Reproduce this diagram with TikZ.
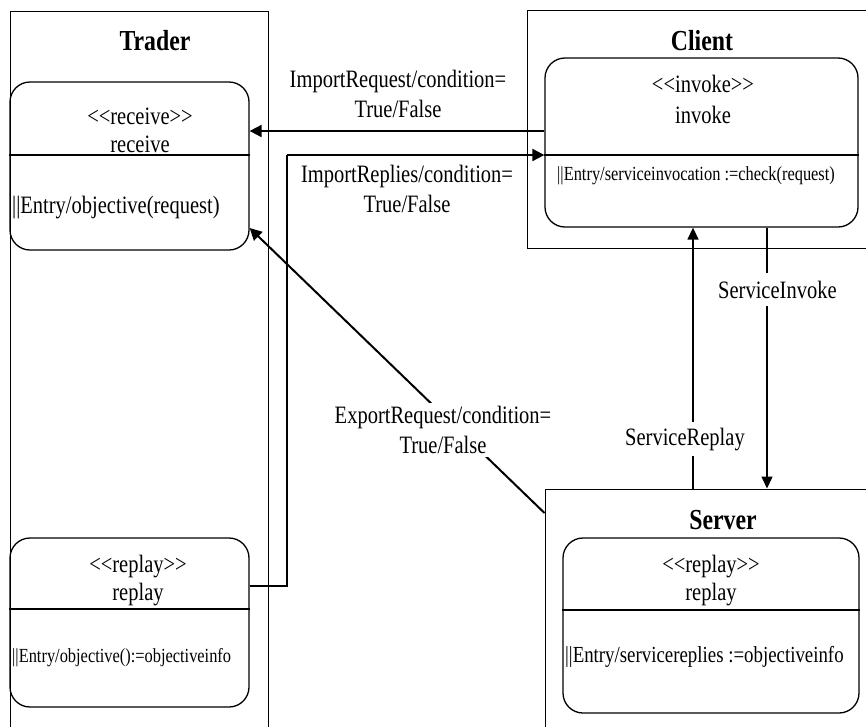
\documentclass[tikz,border=0pt]{standalone}
\usepackage{fontspec}
\setmainfont[FakeStretch=0.82]{Liberation Serif}
\usetikzlibrary{arrows.meta}

\begin{document}
\begin{tikzpicture}[x=1pt, y=-1pt,
        every node/.style={inner sep=0pt, font=\fontsize{25}{30}\selectfont},
        container/.style={draw, line width=1pt},
        statebox/.style={draw, line width=1.3pt, rounded corners=20pt},
        title/.style={font=\bfseries\fontsize{29}{34}\selectfont, anchor=base},
        conn/.style={line width=2pt, -{Triangle[length=12pt, width=12pt]}},
        svc/.style={line width=1.5pt, -{Triangle[length=12pt, width=11pt]}},
        lbl/.style={align=center, fill=white, inner sep=3pt}]

    \useasboundingbox (0,0) rectangle (866,726);
    \clip (0,0) rectangle (866,726);

    % containers
    \node[container, minimum width=258pt, minimum height=749pt] (trader) at (139,385.5) {};
    \node[container, minimum width=373pt, minimum height=238pt] (client) at (713.5,129) {};
    \node[container, minimum width=355pt, minimum height=271pt] (server) at (722.5,624.5) {};

    \node[title] (tradertitle) at (155,50) {Trader};
    \node[title] (clienttitle) at (702,50) {Client};
    \node[title] (servertitle) at (723,529) {Server};

    % states
    \node[statebox, minimum width=239pt, minimum height=168pt] (receive) at (129.5,166) {};
    \node[statebox, minimum width=313pt, minimum height=169pt] (invoke) at (701.5,142.5) {};
    \node[statebox, minimum width=239pt, minimum height=169pt] (replayT) at (129.5,622.5) {};
    \node[statebox, minimum width=296pt, minimum height=175pt] (replayS) at (711,625.5) {};

    \draw[line width=1.3pt] (receive.west |- 0,155) -- (receive.east |- 0,155);
    \draw[line width=1.3pt] (invoke.west |- 0,155) -- (invoke.east |- 0,155);
    \draw[line width=1.3pt] (replayT.west |- 0,609) -- (replayT.east |- 0,609);
    \draw[line width=1.3pt] (replayS.west |- 0,610) -- (replayS.east |- 0,610);

    \node[anchor=base] (rcvst) at (140,124) {<{}<receive>{}>};
    \node[anchor=base] (rcvname) at (140,152) {receive};
    \node[anchor=base west] (rcventry) at (12,213) {||Entry/objective(request)};

    \node[anchor=base] (invst) at (703,92) {<{}<invoke>{}>};
    \node[anchor=base] (invname) at (703,123) {invoke};
    \node[anchor=base west, font=\fontsize{20}{24}\selectfont] (inventry) at (557,180)
        {||Entry/serviceinvocation :=check(request)};

    \node[anchor=base] (reptst) at (138,572) {<{}<replay>{}>};
    \node[anchor=base] (reptname) at (138,600) {replay};
    \node[anchor=base west, font=\fontsize{20}{24}\selectfont] (reptentry) at (12,662)
        {||Entry/objective():=objectiveinfo};

    \node[anchor=base] (repsst) at (711,572) {<{}<replay>{}>};
    \node[anchor=base] (repsname) at (711,600) {replay};
    \node[anchor=base west, font=\fontsize{23}{27}\selectfont] (repsentry) at (565,662)
        {||Entry/servicereplies :=objectiveinfo};

    % transitions
    \coordinate (replybend) at (287,586);
    \coordinate (replytop) at (287,155);
    \draw[conn] (invoke.west |- 0,131) -- (receive.east |- 0,131);
    \draw[line width=1.5pt] (replayT.east |- replybend) -- (replybend) -- (replytop);
    \draw[conn] (replytop) -- (invoke.west |- replytop);
    \draw[conn] (server.west |- 0,513) -- (receive.east |- 0,228);
    \draw[svc] (invoke.south -| 767,0) -- (server.north -| 767,0);
    \draw[svc] (server.north -| 693,0) -- (invoke.south -| 693,0);

    \node[align=center] (impreq) at (398,94) {ImportRequest/condition=\\True/False};
    \node[align=center] (imprep) at (407,189) {ImportReplies/condition=\\True/False};
    \node[lbl] (expreq) at (443,430) {ExportRequest/condition=\\True/False};
    \node[lbl, anchor=base west, inner ysep=8pt] (svcinv) at (715,298) {ServiceInvoke};
    \node[lbl, anchor=base west, inner ysep=6pt] (svcrep) at (622,445) {ServiceReplay};

\end{tikzpicture}
\end{document}
